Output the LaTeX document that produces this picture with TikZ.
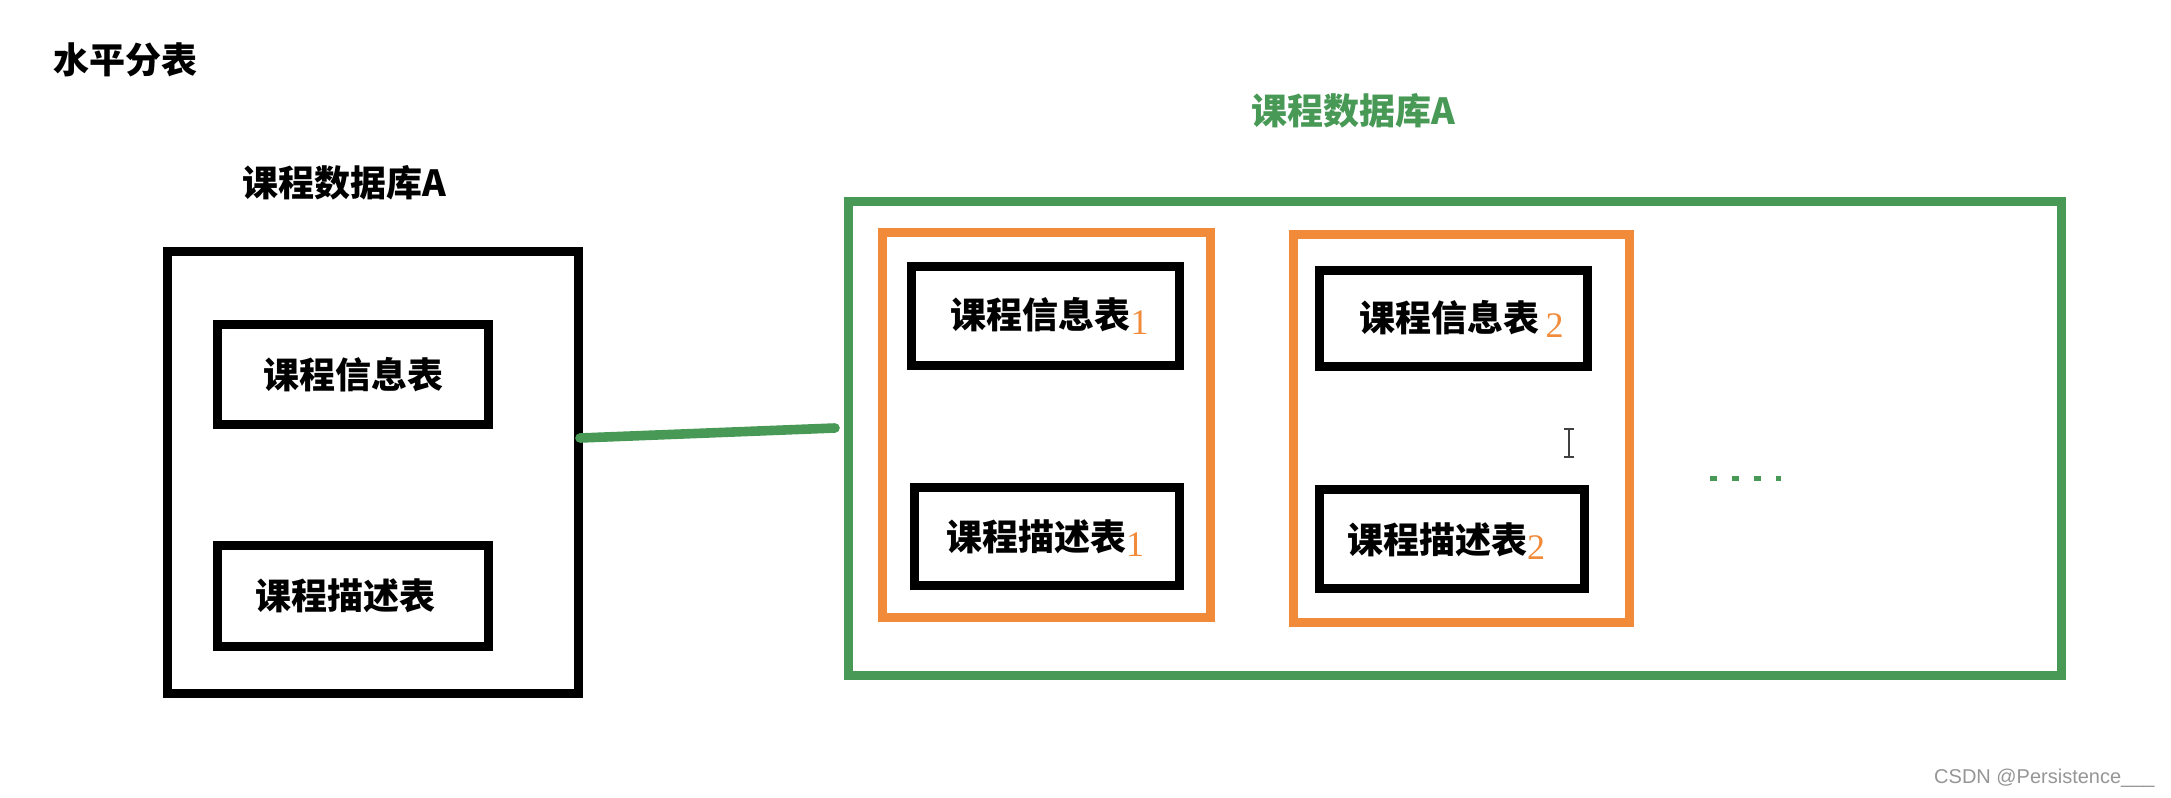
\documentclass[tikz,border=0pt]{standalone}
\usepackage{fontspec}
\setmainfont{Liberation Serif}
\newfontfamily\cjk{Noto Sans CJK SC}
\newfontfamily\wmfont{Liberation Sans}
\usetikzlibrary{calc}
\definecolor{gr}{RGB}{72,153,86}
\definecolor{og}{RGB}{241,139,58}
\definecolor{wm}{RGB}{150,150,150}
\newcommand{\ognum}[1]{\raisebox{-3pt}{\fontsize{18}{18}\selectfont\color{og}\rmfamily\mdseries #1}}
\tikzset{
  blackbox/.style={draw=black, line width=4.5pt, inner sep=0pt},
  greenbox/.style={draw=gr, line width=4.5pt, inner sep=0pt},
  orangebox/.style={draw=og, line width=4.5pt, inner sep=0pt},
  sz/.style 2 args={minimum width={#1*0.5pt}, minimum height={#2*0.5pt}},
  cjktext/.style={font=\cjk\bfseries\fontsize{18}{18}\selectfont, inner sep=0pt},
}
\begin{document}
\begin{tikzpicture}[x=0.5pt, y=-0.5pt]
\useasboundingbox[fill=white] (0,0) rectangle (2171,797);

% titles
\node[cjktext] (title) at (125,60) {水平分表};
\node[cjktext] (tleft) at (344,183) {课程数据库A};
\node[cjktext, text=gr] (tright) at (1353,111) {课程数据库A};

% left database
\node[blackbox, sz={411}{442}] (LA) at (373,472.5) {};
\node[blackbox, sz={271}{100}] (L1) at (353,374.5) {};
\node[cjktext] at (L1) {课程信息表};
\node[blackbox, sz={271}{101}] (L2) at (353,596) {};
\node[cjktext] at ($(L2)+(-8,0)$) {课程描述表};

% right database
\node[greenbox, sz={1213}{474}] (GA) at (1455,438.5) {};
\node[orangebox, sz={328}{385}] (O1) at (1046.5,425) {};
\node[orangebox, sz={336}{388}] (O2) at (1461.5,428.5) {};

\node[blackbox, sz={268}{99}] (R1a) at (1045.5,316) {};
\node[cjktext] at ($(R1a)+(4,0)$) {课程信息表\ognum{1}};
\node[blackbox, sz={265}{98}] (R1b) at (1047,536.5) {};
\node[cjktext] at ($(R1b)+(-2,2)$) {课程描述表\ognum{1}};

\node[blackbox, sz={268}{96}] (R2a) at (1453.5,318.5) {};
\node[cjktext] at ($(R2a)+(8,0)$) {课程信息表\,\ognum{2}};
\node[blackbox, sz={265}{99}] (R2b) at (1452,539) {};
\node[cjktext] at ($(R2b)+(-6,2)$) {课程描述表\ognum{2}};

% connector
\coordinate (gend) at (835,428);
\draw[gr, line width=4.8pt, line cap=round] ($(LA.east)+(-3,-34.5)$) -- (gend);

% ellipsis dots
\draw[gr, line width=2.5pt, dash pattern=on 3.5pt off 7.5pt] (1710,478) -- (1781,478);

% text cursor
\draw[black!75, line width=0.9pt] (1569,429) -- (1569,457)
  (1564,429) -- (1574,429) (1564,457) -- (1574,457);

% watermark
\node[font=\wmfont\fontsize{10}{10}\selectfont, text=wm, anchor=east, inner sep=0pt] (wmk) at (2155,778) {CSDN @Persistence\_\_\_};
\end{tikzpicture}
\end{document}
